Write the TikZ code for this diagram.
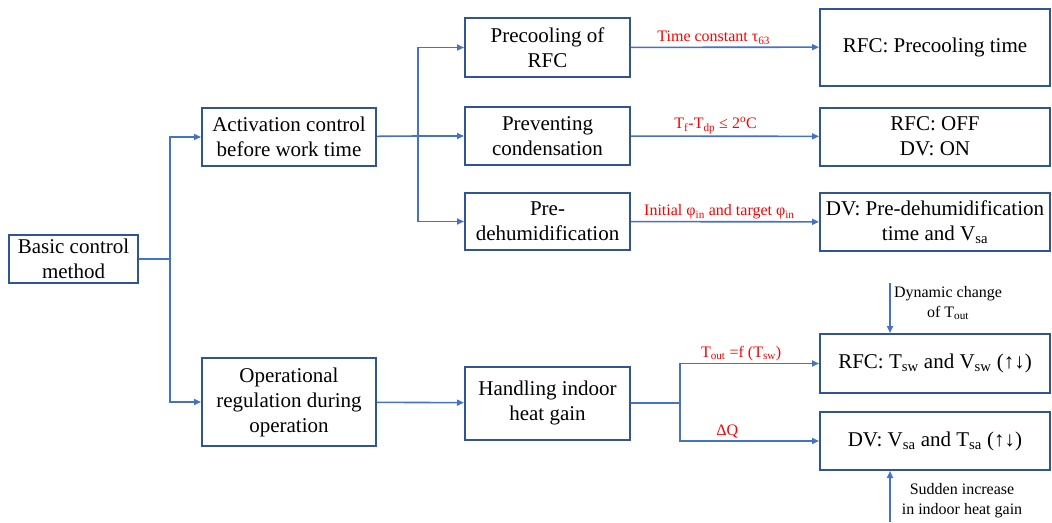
\documentclass[tikz,border=0pt]{standalone}
\usepackage{fontspec}
\setmainfont{Liberation Serif}
\usepackage{tikz}
\usetikzlibrary{arrows.meta,positioning}
\definecolor{boxline}{HTML}{2F5597}
\definecolor{arrline}{HTML}{4472C4}
\definecolor{hint}{HTML}{FF0000}

\begin{document}
\begin{tikzpicture}[x=1pt,y=-1pt,
  box/.style={draw=boxline,line width=2pt,fill=white,align=center,inner sep=2pt,
    font=\fontsize{21}{25}\selectfont},
  arr/.style={-{Triangle[length=7pt,width=6pt]},line width=1.6pt,arrline},
  lnk/.style={line width=1.6pt,arrline},
  cond/.style={text=hint,font=\fontsize{16}{18}\selectfont,inner sep=2pt},
  note/.style={align=center,font=\fontsize{16}{20}\selectfont,inner sep=0pt}]
  \useasboundingbox (0,0) rectangle (1052,522);
  % left column
  \node[box,minimum width=129pt,minimum height=48pt] (basic) at (73.5,259) {Basic control\\method};
  \node[box,minimum width=174pt,minimum height=58pt] (act) at (289,137) {Activation control\\before work time};
  \node[box,minimum width=174pt,minimum height=88pt] (oper) at (289,402) {Operational\\regulation during\\operation};
  % middle column
  \node[box,minimum width=165pt,minimum height=59pt] (pre) at (547.5,47.5) {Precooling of\\RFC};
  \node[box,minimum width=165pt,minimum height=58pt] (prev) at (547.5,136) {Preventing\\condensation};
  \node[box,minimum width=165pt,minimum height=57pt] (dehum) at (547.5,221.5) {Pre-\\dehumidification};
  \node[box,minimum width=165pt,minimum height=73pt] (hand) at (547.5,403) {Handling indoor\\heat gain};
  % right column
  \node[box,minimum width=230pt,minimum height=77pt] (rfcpc) at (935,47) {RFC: Precooling time};
  \node[box,minimum width=230pt,minimum height=58pt] (rfcoff) at (935,136.5) {RFC: OFF\\DV: ON};
  \node[box,minimum width=230pt,minimum height=58pt] (dvdh) at (935,222) {DV: Pre-dehumidification\\time and V\textsubscript{sa}};
  \node[box,minimum width=230pt,minimum height=59pt] (rfcsw) at (935,363.5) {RFC: T\textsubscript{sw} and V\textsubscript{sw} (↑↓)};
  \node[box,minimum width=230pt,minimum height=58pt] (dvsa) at (935,441) {DV: V\textsubscript{sa} and T\textsubscript{sa} (↑↓)};
  % junctions
  \coordinate (jb) at (170,259);
  \coordinate (ja) at (418,136);
  \coordinate (jh) at (680,403);
  \draw[lnk] (basic) -- (jb);
  \draw[arr] (jb) |- (act);
  \draw[arr] (jb) |- (oper);
  \draw[lnk] (act) -- (ja);
  \draw[arr] (ja) |- (pre);
  \draw[arr] (ja) -- (prev);
  \draw[arr] (ja) |- (dehum);
  \draw[arr] (oper) -- (hand);
  \draw[arr] (pre) -- node[cond,above,pos=0.44] (c1) {Time constant τ\textsubscript{63}} (rfcpc);
  \draw[arr] (prev) -- node[cond,above,pos=0.45] (c2) {T\textsubscript{f}-T\textsubscript{dp} ≤ 2\textsuperscript{o}C} (rfcoff);
  \draw[arr] (dehum) -- node[cond,above,pos=0.47] (c3) {Initial φ\textsubscript{in} and target φ\textsubscript{in}} (dvdh);
  \draw[lnk] (hand) -- (jh);
  \draw[arr] (jh) |- node[cond,above,pos=0.72] (c4) {T\textsubscript{out} =f (T\textsubscript{sw})} (rfcsw);
  \draw[arr] (jh) |- node[cond,above,pos=0.67] (c5) {ΔQ} (dvsa);
  % outside influences
  \coordinate (dyn) at (890,283);
  \coordinate (sud) at (890,522);
  \draw[arr] (dyn) -- (dyn |- rfcsw.north);
  \draw[arr] (sud) -- (sud |- dvsa.south);
  \node[note] (dyntxt) at (948,303) {Dynamic change\\of T\textsubscript{out}};
  \node[note] (sudtxt) at (962,501) {Sudden increase\\in indoor heat gain};
\end{tikzpicture}
\end{document}
